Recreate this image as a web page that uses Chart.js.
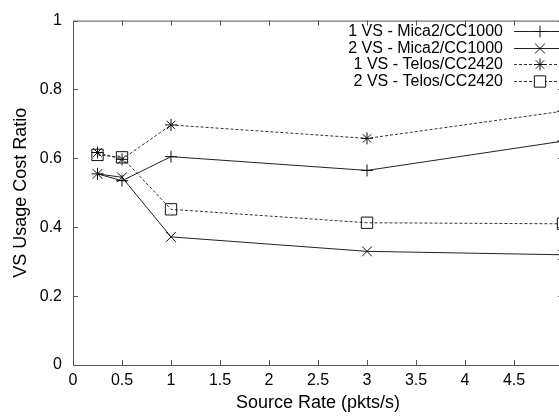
<!DOCTYPE html>
<html>
<head>
<meta charset="utf-8">
<script src="https://cdn.jsdelivr.net/npm/chart.js@4/dist/chart.umd.min.js"></script>
<style>
    html, body { margin: 0; padding: 0; background: #fff; overflow: hidden; }
    #wrap { width: 559px; height: 418px; overflow: hidden; }
</style>
</head>
<body>
<div id="wrap"><canvas id="chart" width="600" height="418"></canvas></div>
<script>

// Source rates (pkts/s) on the x axis
var sourceRates = [0.25, 0.5, 1, 3, 5];

// VS usage cost ratio per configuration
var oneVsMica = [0.555, 0.535, 0.605, 0.565, 0.65];
var twoVsMica = [0.555, 0.545, 0.372, 0.33, 0.32];
var oneVsTelos = [0.617, 0.597, 0.697, 0.658, 0.737];
var twoVsTelos = [0.61, 0.603, 0.452, 0.413, 0.41];

var seriesLabels = [
    '1 VS - Mica2/CC1000',
    '2 VS - Mica2/CC1000',
    '1 VS - Telos/CC2420',
    '2 VS - Telos/CC2420'
];

var xTickStep = 0.5;
var yTickStep = 0.2;

var FONT = "'Liberation Sans', Arial, Helvetica, sans-serif";
var AXIS_COLOR = '#555';

var toPoints = function (values) {
    return values.map(function (v, i) {
        return { x: sourceRates[i], y: v };
    });
};

var makeDataset = function (label, values, pointStyle, radius, dashed) {
    return {
        label: label,
        data: toPoints(values),
        borderColor: dashed ? '#333' : '#222',
        borderWidth: 1,
        borderDash: dashed ? [3, 2] : [],
        pointStyle: pointStyle,
        pointRadius: radius,
        pointBorderColor: '#111',
        pointBackgroundColor: 'rgba(0,0,0,0)',
        pointBorderWidth: 1,
        tension: 0,
        fill: false
    };
};

// gnuplot style: tick marks point into the plot on all four sides
var innerTicks = {
    id: 'innerTicks',
    afterDraw: function (chart) {
        var ctx = chart.ctx;
        var area = chart.chartArea;
        var xs = chart.scales.x;
        var ys = chart.scales.y;
        var len = 5;

        ctx.save();
        ctx.strokeStyle = AXIS_COLOR;
        ctx.lineWidth = 1;
        ctx.beginPath();
        ctx.rect(area.left + 0.5, area.top + 0.5, area.right - area.left, area.bottom - area.top);

        xs.ticks.forEach(function (t) {
            var px = Math.round(xs.getPixelForValue(t.value)) + 0.5;
            ctx.moveTo(px, area.bottom);
            ctx.lineTo(px, area.bottom - len);
            ctx.moveTo(px, area.top);
            ctx.lineTo(px, area.top + len);
        });
        ys.ticks.forEach(function (t) {
            var py = Math.round(ys.getPixelForValue(t.value)) + 0.5;
            ctx.moveTo(area.left, py);
            ctx.lineTo(area.left + len, py);
            ctx.moveTo(area.right, py);
            ctx.lineTo(area.right - len, py);
        });
        ctx.stroke();
        ctx.restore();
    }
};

// Legend in the top right: text right aligned, then a line sample with the marker
var keyLegend = {
    id: 'keyLegend',
    afterDraw: function (chart) {
        var ctx = chart.ctx;
        var textRight = 503;
        var lineStart = 514;
        var lineEnd = 600;
        var markX = 540;
        var top = 31;
        var rowHeight = 16.5;

        ctx.save();
        chart.data.datasets.forEach(function (ds, i) {
            var y = Math.round(top + i * rowHeight) + 0.5;

            ctx.fillStyle = '#000';
            ctx.font = '16px ' + FONT;
            ctx.textAlign = 'right';
            ctx.textBaseline = 'middle';
            ctx.fillText(ds.label, textRight, y);

            ctx.strokeStyle = ds.borderColor;
            ctx.lineWidth = 1;
            ctx.setLineDash(ds.borderDash);
            ctx.beginPath();
            ctx.moveTo(lineStart, y);
            ctx.lineTo(lineEnd, y);
            ctx.stroke();
            ctx.setLineDash([]);

            // white box under the marker so the sample line does not cross it
            if (ds.pointStyle === 'rect') {
                ctx.fillStyle = '#fff';
                ctx.fillRect(markX - 5, y - 5, 10, 10);
            }
            ctx.strokeStyle = ds.pointBorderColor;
            ctx.fillStyle = 'rgba(0,0,0,0)';
            Chart.helpers.drawPoint(ctx, {
                pointStyle: ds.pointStyle,
                radius: ds.pointRadius,
                rotation: 0,
                borderWidth: 1
            }, markX, y);
        });
        ctx.restore();
    }
};

var formatTick = function (v) {
    return String(Number(v.toFixed(2)));
};

var config = {
    type: 'line',
    data: {
        datasets: [
            makeDataset(seriesLabels[0], oneVsMica, 'cross', 6, false),
            makeDataset(seriesLabels[1], twoVsMica, 'crossRot', 7, false),
            makeDataset(seriesLabels[2], oneVsTelos, 'star', 6, true),
            makeDataset(seriesLabels[3], twoVsTelos, 'rect', 8, true)
        ]
    },
    options: {
        responsive: false,
        animation: false,
        events: [],
        layout: {
            padding: { top: 12, right: 37, left: 0, bottom: 0 }
        },
        plugins: {
            legend: { display: false },
            tooltip: { enabled: false },
            title: { display: false }
        },
        scales: {
            x: {
                type: 'linear',
                min: 0,
                max: 5,
                afterFit: function (scale) { scale.height = 53; },
                border: { display: false },
                grid: { display: false, drawTicks: false },
                ticks: {
                    stepSize: xTickStep,
                    padding: 6,
                    color: '#000',
                    maxRotation: 0,
                    autoSkip: false,
                    font: { family: FONT, size: 16 },
                    callback: formatTick
                },
                title: {
                    display: true,
                    text: 'Source Rate (pkts/s)',
                    color: '#000',
                    font: { family: FONT, size: 18 },
                    padding: { top: 0, bottom: 4 }
                }
            },
            y: {
                min: 0,
                max: 1,
                afterFit: function (scale) { scale.width = 73; },
                border: { display: false },
                grid: { display: false, drawTicks: false },
                ticks: {
                    stepSize: yTickStep,
                    padding: 11,
                    color: '#000',
                    font: { family: FONT, size: 16 },
                    callback: formatTick
                },
                title: {
                    display: true,
                    text: 'VS Usage Cost Ratio',
                    color: '#000',
                    font: { family: FONT, size: 18 },
                    padding: { top: 10, bottom: 0 }
                }
            }
        }
    },
    plugins: [innerTicks, keyLegend]
};

var ctx = document.getElementById('chart').getContext('2d');
var usageChart = new Chart(ctx, config);
</script>
</body>
</html>
